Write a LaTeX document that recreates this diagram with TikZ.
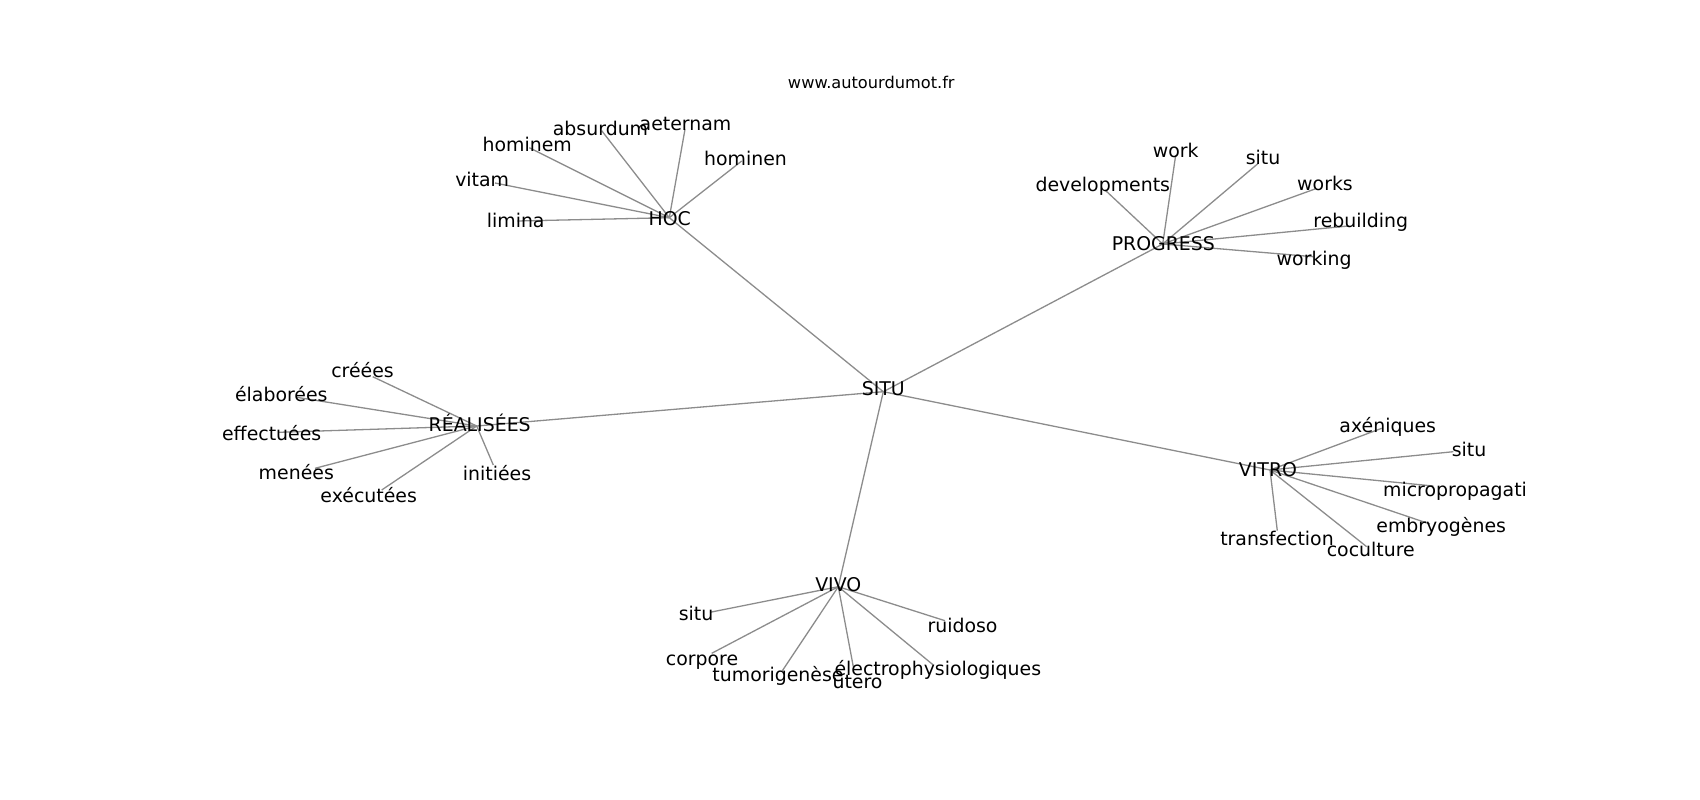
\documentclass[tikz,border=0pt]{standalone}
\usepackage{fontspec}
\setmainfont{DejaVu Sans}
\tikzset{
  edge/.style={draw=gray!50!black!60!white, line width=1.3pt},
  word/.style={anchor=base, inner sep=0pt, outer sep=0pt, text=black, font=\fontsize{18.9}{22}\selectfont},
  credit/.style={anchor=base, inner sep=0pt, text=black, font=\fontsize{16.2}{19}\selectfont}
}
\begin{document}
\begin{tikzpicture}[x=1pt,y=-1pt]
\useasboundingbox (0,0) rectangle (1700,800);
% graph points (edge ends)
\coordinate (situ) at (883.3,391.7);
\coordinate (hoc) at (669.3,217.7);
\coordinate (progress) at (1162.7,244);
\coordinate (realisees) at (476.7,426);
\coordinate (vitro) at (1270,470);
\coordinate (vivo) at (838.3,586.7);
% HOC
\coordinate (hoc-limina) at (517.3,221);
\coordinate (hoc-vitam) at (495,183);
\coordinate (hoc-hominem) at (529.3,147.7);
\coordinate (hoc-absurdum) at (601.7,130.7);
\coordinate (hoc-aeternam) at (685,129.3);
\coordinate (hoc-hominen) at (741.7,161);
% PROGRESS
\coordinate (pr-work) at (1175.7,155);
\coordinate (pr-situ) at (1258.3,163.3);
\coordinate (pr-dev) at (1105,190);
\coordinate (pr-works) at (1315,189);
\coordinate (pr-rebuilding) at (1348.3,226);
\coordinate (pr-working) at (1313.3,256.7);
% REALISEES
\coordinate (re-creees) at (372.7,376.7);
\coordinate (re-elaborees) at (296.7,397.3);
\coordinate (re-effectuees) at (278.3,432.3);
\coordinate (re-menees) at (315,468.3);
\coordinate (re-executees) at (381.7,490);
\coordinate (re-initiees) at (493.3,465);
% VITRO
\coordinate (vt-axeniques) at (1381.7,428.3);
\coordinate (vt-situ) at (1453.3,451.7);
\coordinate (vt-micro) at (1433.3,486);
\coordinate (vt-embryo) at (1430,524);
\coordinate (vt-coculture) at (1366.7,546.7);
\coordinate (vt-transfection) at (1277.3,530.7);
% VIVO
\coordinate (vv-situ) at (710,612.3);
\coordinate (vv-ruidoso) at (945,620.7);
\coordinate (vv-corpore) at (711.7,653.3);
\coordinate (vv-tumor) at (781.7,671.7);
\coordinate (vv-electro) at (933.3,665);
\coordinate (vv-utero) at (853.3,666.7);

% edges
\foreach \h in {hoc,progress,realisees,vitro,vivo} \draw[edge] (situ) -- (\h);
\foreach \l in {limina,vitam,hominem,absurdum,aeternam,hominen} \draw[edge] (hoc) -- (hoc-\l);
\foreach \l in {work,situ,dev,works,rebuilding,working} \draw[edge] (progress) -- (pr-\l);
\foreach \l in {creees,elaborees,effectuees,menees,executees,initiees} \draw[edge] (realisees) -- (re-\l);
\foreach \l in {axeniques,situ,micro,embryo,coculture,transfection} \draw[edge] (vitro) -- (vt-\l);
\foreach \l in {situ,ruidoso,corpore,tumor,electro,utero} \draw[edge] (vivo) -- (vv-\l);

% labels
\node[credit] (title) at (871.3,88.3) {www.autourdumot.fr};
\node[word] (t-situ) at (883.3,395) {SITU};
\node[word] (t-hoc) at (669.7,225.7) {HOC};
\node[word] (t-progress) at (1163.3,250) {PROGRESS};
\node[word] (t-realisees) at (479.7,431) {RÉALISÉES};
\node[word] (t-vitro) at (1268,476) {VITRO};
\node[word] (t-vivo) at (838.3,591.7) {VIVO};

\node[word] (t-hoc-limina) at (515.7,227.3) {limina};
\node[word] (t-hoc-vitam) at (482.2,186.7) {vitam};
\node[word] (t-hoc-hominem) at (527.2,151.7) {hominem};
\node[word] (t-hoc-absurdum) at (600.5,135.7) {absurdum};
\node[word] (t-hoc-aeternam) at (685.5,130.7) {aeternam};
\node[word] (t-hoc-hominen) at (745.5,165) {hominen};

\node[word] (t-pr-work) at (1175.8,157.3) {work};
\node[word] (t-pr-situ) at (1263,164) {situ};
\node[word] (t-pr-dev) at (1102.8,191.7) {developments};
\node[word] (t-pr-works) at (1325,190) {works};
\node[word] (t-pr-rebuilding) at (1360.8,227.3) {rebuilding};
\node[word] (t-pr-working) at (1314.2,265) {working};

\node[word] (t-re-creees) at (362.5,377.7) {créées};
\node[word] (t-re-elaborees) at (281.3,401) {élaborées};
\node[word] (t-re-effectuees) at (271.7,440.7) {effectuées};
\node[word] (t-re-menees) at (296.3,479) {menées};
\node[word] (t-re-executees) at (368.7,502.7) {exécutées};
\node[word] (t-re-initiees) at (497,480.7) {initiées};

\node[word] (t-vt-axeniques) at (1387.7,432.3) {axéniques};
\node[word] (t-vt-situ) at (1469,456) {situ};
\node[word] (t-vt-micro) at (1455,496) {micropropagati};
\node[word] (t-vt-embryo) at (1441.2,532.3) {embryogènes};
\node[word] (t-vt-coculture) at (1370.8,556) {coculture};
\node[word] (t-vt-transfection) at (1277,545) {transfection};

\node[word] (t-vv-situ) at (696,620) {situ};
\node[word] (t-vv-ruidoso) at (962.5,632.3) {ruidoso};
\node[word] (t-vv-corpore) at (702,665) {corpore};
\node[word] (t-vv-tumor) at (778,681.7) {tumorigenèse};
\node[word] (t-vv-electro) at (937.8,675) {électrophysiologiques};
\node[word] (t-vv-utero) at (857.5,688.3) {utero};
\end{tikzpicture}
\end{document}
